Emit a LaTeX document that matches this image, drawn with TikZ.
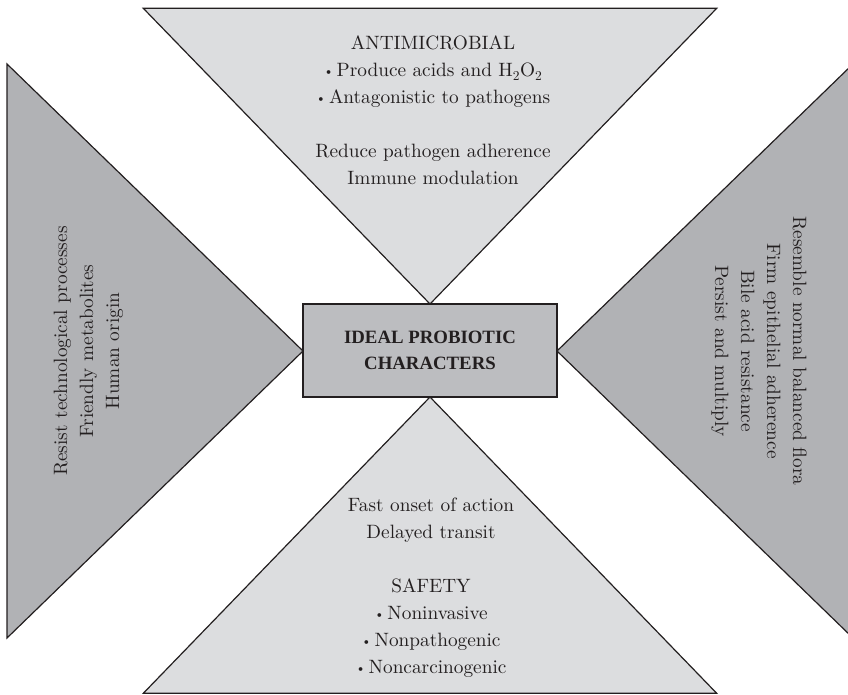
\documentclass[tikz,border=0pt]{standalone}
\usepackage{fontspec}
\setmainfont{lmroman10}[Extension=.otf, UprightFont=*-regular, BoldFont=*-bold, ItalicFont=*-italic, BoldItalicFont=*-bolditalic]
\newfontfamily\titlefont{Liberation Serif}
\definecolor{lightfill}{HTML}{DCDDDF}
\definecolor{darkfill}{HTML}{B1B2B5}
\definecolor{boxfill}{HTML}{BCBDC0}
\definecolor{linec}{HTML}{231F20}
\definecolor{textc}{HTML}{231F20}
\newcommand\bul{\raisebox{1.2pt}{\fontsize{13}{13}\selectfont\textbullet}\hspace{3pt}}
\tikzset{
  lighttri/.style={fill=lightfill, draw=linec, line width=1.2pt, line join=miter},
  darktri/.style={fill=darkfill, draw=linec, line width=1.2pt, line join=miter},
  corebox/.style={fill=boxfill, draw=linec, line width=1.5pt, minimum width=254pt, minimum height=93pt,
    align=center, inner sep=0pt, text=textc, font=\titlefont\fontsize{18.8}{25.7}\selectfont\bfseries},
  lab/.style={anchor=base, inner sep=0pt, text=textc, font=\fontsize{19.3}{27}\selectfont},
}
\begin{document}
\begin{tikzpicture}[x=1pt,y=-1pt]
\useasboundingbox (0,0) rectangle (848,695);
\clip (0,0) rectangle (848,695);
% triangles
\filldraw[lighttri] (143.3,8.3) -- (716.7,8.3) -- (430,304) -- cycle;
\filldraw[lighttri] (430,397) -- (716.7,693.3) -- (143.3,693.3) -- cycle;
\filldraw[darktri] (7,64) -- (303,351) -- (7,638) -- cycle;
\filldraw[darktri] (853,64) -- (557,351) -- (853,638) -- cycle;
% centre box
\node[corebox] (core) at (430,350.5) {IDEAL PROBIOTIC\\CHARACTERS};
% top texts
\node[lab] (t1) at (433,50) {ANTIMICROBIAL};
\node[lab] (t2) at (433,77) {\bul Produce acids and H\textsubscript{2}O\textsubscript{2}};
\node[lab] (t3) at (433,104) {\bul Antagonistic to pathogens};
\node[lab] (t4) at (433,158) {Reduce pathogen adherence};
\node[lab] (t5) at (433,185) {Immune modulation};
% bottom texts
\node[lab] (b1) at (431,511) {Fast onset of action};
\node[lab] (b2) at (431,538.5) {Delayed transit};
\node[lab] (b3) at (431,592.5) {SAFETY};
\node[lab] (b4) at (431,619.5) {\bul Noninvasive};
\node[lab] (b5) at (431,646.5) {\bul Nonpathogenic};
\node[lab] (b6) at (431,673.5) {\bul Noncarcinogenic};
% left texts
\node[lab, rotate=90] (l1) at (67,351) {Resist technological processes};
\node[lab, rotate=90] (l2) at (93,351) {Friendly metabolites};
\node[lab, rotate=90] (l3) at (119,351) {Human origin};
% right texts
\node[lab, rotate=-90] (r1) at (793,351) {Resemble normal balanced flora};
\node[lab, rotate=-90] (r2) at (767,351) {Firm epithelial adherence};
\node[lab, rotate=-90] (r3) at (741,351) {Bile acid resistance};
\node[lab, rotate=-90] (r4) at (715,351) {Persist and multiply};
\end{tikzpicture}
\end{document}
